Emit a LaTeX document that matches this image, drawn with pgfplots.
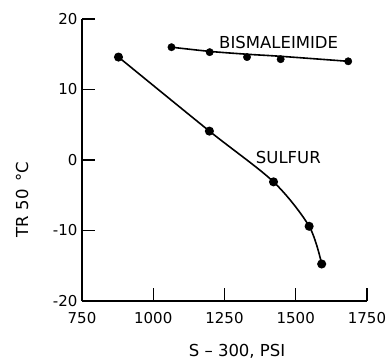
\documentclass[border=0pt]{standalone}
\usepackage{fontspec}
\setmainfont{DejaVu Sans}
\usepackage{pgfplots}
\pgfplotsset{compat=1.18}
\begin{document}
\begin{tikzpicture}
\path[use as bounding box] (-82pt,-61pt) rectangle (305pt,301pt);
\begin{axis}[
  scale only axis, width=285pt, height=282pt,
  at={(0,0)}, anchor=south west,
  xmin=750, xmax=1750, ymin=-20, ymax=20,
  axis x line=bottom, axis y line=left,
  axis line style={-, line width=1.8pt},
  xtick={750,1000,1250,1500,1750},
  ytick={-20,-10,0,10,20},
  tick align=inside, major tick length=13pt,
  tick style={line width=1.1pt, black},
  xticklabel style={font=\fontsize{15}{18}\selectfont, yshift=-8pt},
  yticklabel style={font=\fontsize{15}{18}\selectfont, xshift=-1pt},
  /pgf/number format/assume math mode=true,
  /pgf/number format/1000 sep={},
  xlabel={S -- 300, PSI},
  ylabel={TR 50 \,°C},
  xlabel style={at={(rel axis cs:0.544,-0.18)}, anchor=center, font=\fontsize{16.5}{19}\selectfont},
  ylabel style={at={(rel axis cs:-0.21,0.36)}, anchor=center, rotate=0, font=\fontsize{16.5}{19}\selectfont},
  clip=false,
]
% Sulfur
\addplot[black, line width=1.6pt, smooth, mark=*, mark size=3.7pt] coordinates {
  (878,14.6) (1197,4.1) (1422,-3.1) (1547,-9.4) (1591,-14.75)
};
% Bismaleimide fitted curve
\addplot[black, line width=1.6pt, smooth] coordinates {
  (1064,16.0) (1200,15.4) (1330,15.0) (1450,14.7) (1684,14.0)
};
% Bismaleimide points
\addplot[black, only marks, mark=*, mark size=3.7pt] coordinates {
  (1064,16.0) (1198,15.3) (1329,14.6) (1447,14.3) (1684,14.0)
};
\node[font=\fontsize{16.5}{19}\selectfont] at (axis cs:1440,16.7) {BISMALEIMIDE};
\node[font=\fontsize{16.5}{19}\selectfont] at (axis cs:1474,0.4) {SULFUR};
\end{axis}
\end{tikzpicture}
\end{document}
